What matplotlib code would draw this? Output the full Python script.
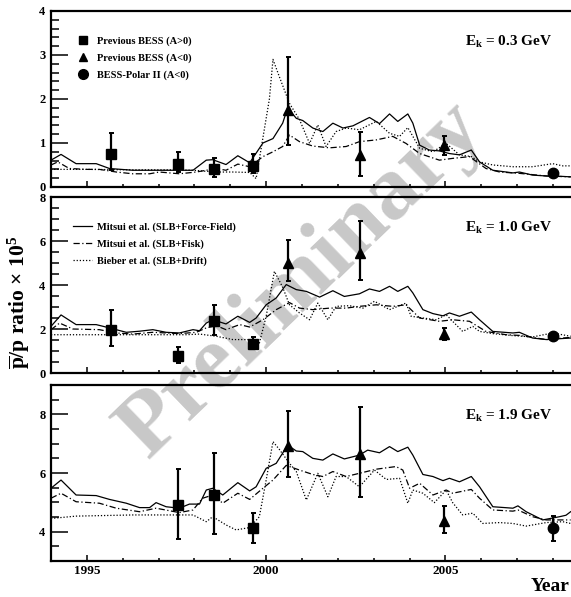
import matplotlib
matplotlib.use("Agg")
import matplotlib.pyplot as plt
from matplotlib.lines import Line2D
from matplotlib.ticker import MultipleLocator

plt.rcParams["font.family"] = ["Liberation Serif", "DejaVu Serif"]
plt.rcParams["font.weight"] = "bold"
plt.rcParams["mathtext.fontset"] = "custom"
plt.rcParams["mathtext.rm"] = "Liberation Serif:bold"
plt.rcParams["mathtext.bf"] = "Liberation Serif:bold"
plt.rcParams["mathtext.it"] = "Liberation Serif:italic:bold"

# ---- data points (shared x positions) ----
sq_x = [1995.66, 1997.54, 1998.54, 1999.63]
tri_x = [2000.62, 2002.62, 2004.95]
circ_x = [2007.99]

# E_k = 0.3 GeV
sq03_y = [0.74, 0.52, 0.42, 0.48]
sq03_lo = [0.36, 0.18, 0.19, 0.17]
sq03_hi = [0.48, 0.27, 0.24, 0.26]
tri03_y = [1.76, 0.73, 0.95]
tri03_lo = [0.81, 0.49, 0.22]
tri03_hi = [1.20, 0.51, 0.20]
circ03_y = [0.31]
circ03_err = [0.04]

ff03_x = [1994.0, 1994.28, 1994.7, 1995.26, 1995.63, 1996.28, 1997.21, 1997.96, 1998.33, 1998.51,
          1998.88, 1999.21, 1999.54, 1999.91, 2000.19, 2000.46, 2000.60, 2000.84, 2001.02, 2001.30,
          2001.58, 2001.86, 2002.14, 2002.42, 2002.88, 2003.16, 2003.44, 2003.67, 2003.95, 2004.09,
          2004.28, 2004.55, 2004.83, 2005.11, 2005.39, 2005.72, 2005.95, 2006.32, 2006.88, 2007.06,
          2007.43, 2007.81, 2008.27, 2008.49]
ff03_y = [0.61, 0.74, 0.53, 0.53, 0.42, 0.38, 0.38, 0.38, 0.61, 0.62,
          0.51, 0.71, 0.55, 1.0, 1.1, 1.45, 1.8, 1.56, 1.51, 1.34,
          1.26, 1.45, 1.34, 1.39, 1.58, 1.44, 1.66, 1.49, 1.66, 1.45,
          0.95, 0.84, 0.82, 0.76, 0.73, 0.84, 0.57, 0.38, 0.32, 0.34,
          0.27, 0.25, 0.24, 0.23]
fisk03_x = [1994.0, 1994.19, 1994.51, 1995.0, 1995.35, 1995.82, 1996.28, 1996.75, 1997.02, 1997.58,
            1998.05, 1998.61, 1998.88, 1999.21, 1999.54, 1999.91, 2000.19, 2000.46, 2000.65, 2000.93,
            2001.30, 2001.77, 2002.23, 2002.60, 2003.07, 2003.53, 2003.90, 2004.28, 2004.83, 2005.20,
            2005.67, 2006.13, 2006.51, 2007.06, 2007.81, 2008.49]
fisk03_y = [0.5, 0.57, 0.42, 0.40, 0.40, 0.34, 0.30, 0.30, 0.34, 0.30,
            0.34, 0.42, 0.38, 0.52, 0.46, 0.69, 0.80, 0.92, 1.18, 1.03,
            0.93, 0.89, 0.92, 1.03, 1.07, 1.15, 0.99, 0.76, 0.61, 0.65,
            0.69, 0.42, 0.34, 0.31, 0.25, 0.23]
drift03_x = [1994.0, 1995.0, 1996.28, 1997.21, 1997.96, 1998.61, 1999.07, 1999.54, 1999.72, 2000.09,
             2000.19, 2000.37, 2000.65, 2000.93, 2001.21, 2001.44, 2001.67, 2001.95, 2002.23, 2002.60,
             2003.07, 2003.44, 2003.72, 2003.95, 2004.28, 2004.65, 2005.02, 2005.39, 2005.72, 2005.95,
             2006.32, 2006.88, 2007.43, 2007.99, 2008.27, 2008.49]
drift03_y = [0.40, 0.40, 0.39, 0.39, 0.38, 0.34, 0.34, 0.33, 0.19, 2.0,
             2.9, 2.5, 1.9, 1.53, 0.99, 1.41, 0.92, 1.26, 1.34, 1.3,
             1.49, 1.22, 1.15, 1.35, 0.88, 0.8, 0.99, 0.73, 0.69, 0.57,
             0.5, 0.46, 0.46, 0.53, 0.48, 0.48]

# E_k = 1.0 GeV
sq10_y = [1.97, 0.76, 2.35, 1.33]
sq10_lo = [0.73, 0.31, 0.61, 0.24]
sq10_hi = [0.91, 0.41, 0.73, 0.29]
tri10_y = [5.0, 5.45, 1.79]
tri10_lo = [0.83, 1.24, 0.27]
tri10_hi = [1.03, 1.44, 0.26]
circ10_y = [1.67]
circ10_err = [0.08]

ff10_x = [1994.0, 1994.28, 1994.70, 1995.26, 1995.63, 1996.10, 1996.47, 1996.84, 1997.21, 1997.58,
          1997.96, 1998.14, 1998.33, 1998.51, 1998.88, 1999.21, 1999.54, 1999.72, 2000.0, 2000.28,
          2000.56, 2000.84, 2001.12, 2001.49, 2001.86, 2002.18, 2002.60, 2002.88, 2003.16, 2003.44,
          2003.67, 2003.95, 2004.09, 2004.37, 2004.65, 2004.93, 2005.11, 2005.39, 2005.72, 2005.95,
          2006.32, 2006.88, 2007.06, 2007.43, 2007.81, 2008.49]
ff10_y = [2.12, 2.64, 2.2, 2.2, 2.05, 1.85, 1.9, 1.97, 1.85, 1.82,
          1.97, 1.92, 2.27, 2.42, 2.23, 2.58, 2.3, 2.5, 3.1, 3.41,
          4.02, 3.79, 3.71, 3.45, 3.74, 3.48, 3.6, 3.82, 3.71, 3.94,
          3.71, 3.94, 3.64, 2.88, 2.7, 2.6, 2.73, 2.58, 2.77, 2.42,
          1.89, 1.82, 1.85, 1.59, 1.52, 1.59]
fisk10_x = [1994.0, 1994.24, 1994.61, 1995.35, 1995.82, 1996.28, 1996.84, 1997.58, 1998.05, 1998.33,
            1998.61, 1998.88, 1999.26, 1999.54, 1999.91, 2000.28, 2000.65, 2000.93, 2001.30, 2001.77,
            2002.23, 2002.60, 2003.07, 2003.53, 2003.90, 2004.28, 2004.83, 2005.20, 2005.67, 2006.13,
            2006.69, 2007.06, 2007.81, 2008.49]
fisk10_y = [1.97, 2.27, 2.0, 1.97, 1.82, 1.77, 1.85, 1.79, 1.85, 2.05,
            2.15, 1.97, 2.2, 2.09, 2.42, 2.88, 3.2, 2.95, 2.88, 2.95,
            2.95, 3.03, 3.1, 3.03, 3.1, 2.5, 2.35, 2.42, 2.35, 1.89,
            1.74, 1.71, 1.52, 1.62]
drift10_x = [1994.0, 1997.77, 1998.14, 1998.61, 1999.07, 1999.54, 1999.81, 2000.0, 2000.23, 2000.46,
             2000.65, 2000.93, 2001.21, 2001.44, 2001.72, 2001.95, 2002.32, 2002.70, 2003.02, 2003.44,
             2003.90, 2004.04, 2004.37, 2004.74, 2005.02, 2005.20, 2005.48, 2005.76, 2005.95, 2006.32,
             2006.88, 2007.43, 2007.99, 2008.49]
drift10_y = [1.74, 1.74, 1.77, 1.67, 1.52, 1.52, 1.36, 2.58, 4.62, 3.9,
             3.1, 2.73, 2.42, 3.18, 2.42, 3.03, 3.06, 2.95, 3.26, 2.88,
             3.18, 2.58, 2.5, 2.42, 2.65, 2.35, 1.89, 2.12, 1.89, 1.79,
             1.7, 1.64, 1.82, 1.67]

# E_k = 1.9 GeV
sq19_x = [1997.54, 1998.54, 1999.63]
sq19_y = [4.91, 5.25, 4.11]
sq19_lo = [1.16, 1.33, 0.51]
sq19_hi = [1.21, 1.44, 0.54]
tri19_y = [6.93, 6.65, 4.38]
tri19_lo = [1.08, 1.48, 0.41]
tri19_hi = [1.18, 1.59, 0.50]
circ19_y = [4.11]
circ19_err = [0.44]

ff19_x = [1994.0, 1994.28, 1994.70, 1995.26, 1995.63, 1996.10, 1996.47, 1996.75, 1996.93, 1997.21,
          1997.58, 1997.86, 1998.14, 1998.33, 1998.51, 1998.79, 1999.21, 1999.54, 1999.72, 2000.0,
          2000.28, 2000.60, 2000.84, 2001.02, 2001.30, 2001.58, 2001.86, 2002.18, 2002.60, 2002.83,
          2003.16, 2003.44, 2003.67, 2003.95, 2004.09, 2004.37, 2004.65, 2004.93, 2005.11, 2005.39,
          2005.72, 2005.95, 2006.32, 2006.88, 2007.02, 2007.25, 2007.71, 2008.18, 2008.36, 2008.49]
ff19_y = [5.48, 5.76, 5.25, 5.23, 5.1, 4.97, 4.82, 4.82, 4.99, 4.85,
          4.8, 4.94, 4.94, 5.42, 5.48, 5.25, 5.67, 5.39, 5.53, 6.16,
          6.33, 6.95, 6.75, 6.73, 6.5, 6.44, 6.65, 6.48, 6.61, 6.78,
          6.69, 6.9, 6.73, 6.88, 6.61, 5.95, 5.88, 5.74, 5.82, 5.7,
          5.88, 5.53, 4.85, 4.8, 4.88, 4.68, 4.4, 4.51, 4.56, 4.68]
fisk19_x = [1994.0, 1994.28, 1994.70, 1995.35, 1995.82, 1996.47, 1996.93, 1997.58, 1997.96, 1998.23,
            1998.51, 1998.79, 1999.21, 1999.54, 1999.91, 2000.19, 2000.56, 2000.93, 2001.30, 2001.58,
            2001.86, 2002.23, 2002.60, 2003.07, 2003.62, 2003.81, 2004.0, 2004.28, 2004.65, 2005.02,
            2005.20, 2005.72, 2005.95, 2006.32, 2006.88, 2007.02, 2007.43, 2007.81, 2008.27, 2008.49]
fisk19_y = [5.14, 5.31, 5.02, 4.97, 4.8, 4.68, 4.8, 4.65, 4.74, 5.14,
            5.25, 4.97, 5.31, 5.1, 5.48, 5.76, 6.26, 6.1, 5.95, 5.88,
            6.05, 5.88, 5.99, 6.13, 6.22, 6.1, 5.48, 5.65, 5.25, 5.42,
            5.31, 5.44, 5.14, 4.74, 4.7, 4.74, 4.51, 4.4, 4.4, 4.4]
drift19_x = [1994.0, 1994.70, 1996.28, 1997.96, 1998.33, 1998.51, 1998.88, 1999.16, 1999.54, 1999.81,
             2000.0, 2000.19, 2000.37, 2000.65, 2000.84, 2001.12, 2001.44, 2001.72, 2001.95, 2002.23,
             2002.60, 2003.02, 2003.35, 2003.72, 2003.95, 2004.09, 2004.37, 2004.69, 2005.02, 2005.20,
             2005.48, 2005.76, 2006.04, 2006.51, 2006.88, 2007.25, 2007.81, 2008.27, 2008.49]
drift19_y = [4.45, 4.53, 4.57, 4.57, 4.34, 4.51, 4.23, 4.06, 4.14, 4.51,
             5.76, 7.07, 6.8, 6.33, 6.05, 5.08, 5.99, 5.19, 5.88, 5.88,
             5.53, 6.1, 5.78, 5.82, 4.97, 5.42, 5.31, 4.99, 5.42, 4.99,
             4.57, 4.63, 4.28, 4.31, 4.28, 4.19, 4.31, 4.34, 4.28]

panel_labels = ["0.3", "1.0", "1.9"]
model_labels = ["Mitsui et al. (SLB+Force-Field)", "Mitsui et al. (SLB+Fisk)", "Bieber et al. (SLB+Drift)"]
data_labels = ["Previous BESS (A>0)", "Previous BESS (A<0)", "BESS-Polar II (A<0)"]

DASHDOT = (0, (5, 2, 1, 2))
DOTTED = (0, (1, 1.5))

fig = plt.figure(figsize=(5.71, 5.97), dpi=100)
fig.text(0.53, 0.53, "Preliminary", rotation=44, fontsize=66, color="#c8c8c8",
         fontweight="bold", ha="center", va="center", zorder=-1)

bottoms = [0.6868, 0.3752, 0.0603]
ylims = [(0, 4), (0, 8), (3, 9)]
majors = [1, 2, 2]
minors = [0.2, 0.5, 0.5]

panels = [
    (ff03_x, ff03_y, fisk03_x, fisk03_y, drift03_x, drift03_y,
     sq_x, sq03_y, sq03_lo, sq03_hi, tri03_y, tri03_lo, tri03_hi, circ03_y, circ03_err),
    (ff10_x, ff10_y, fisk10_x, fisk10_y, drift10_x, drift10_y,
     sq_x, sq10_y, sq10_lo, sq10_hi, tri10_y, tri10_lo, tri10_hi, circ10_y, circ10_err),
    (ff19_x, ff19_y, fisk19_x, fisk19_y, drift19_x, drift19_y,
     sq19_x, sq19_y, sq19_lo, sq19_hi, tri19_y, tri19_lo, tri19_hi, circ19_y, circ19_err),
]

axes = []
for i, p in enumerate(panels):
    (fx, fy, kx, ky, dx, dy, sx, sy, slo, shi, ty, tlo, thi, cy, cerr) = p
    ax = fig.add_axes([0.0893, bottoms[i], 0.9107, 0.2948])
    ax.set_facecolor("none")
    ax.plot(fx, fy, color="black", lw=0.9, ls="-")
    ax.plot(kx, ky, color="black", lw=0.9, ls=DASHDOT)
    ax.plot(dx, dy, color="black", lw=0.9, ls=DOTTED)
    ekw = dict(color="black", ecolor="black", elinewidth=1.6, capsize=1.8, capthick=1.4, ls="none")
    ax.errorbar(sx, sy, yerr=[slo, shi], marker="s", ms=6.5, **ekw)
    ax.errorbar(tri_x, ty, yerr=[tlo, thi], marker="^", ms=6.5, **ekw)
    ax.errorbar(circ_x, cy, yerr=[cerr, cerr], marker="o", ms=7.5, **ekw)

    ax.set_xlim(1994.0, 2008.5)
    ax.set_ylim(*ylims[i])
    ax.xaxis.set_major_locator(MultipleLocator(5))
    ax.xaxis.set_minor_locator(MultipleLocator(1))
    ax.yaxis.set_major_locator(MultipleLocator(majors[i]))
    ax.yaxis.set_minor_locator(MultipleLocator(minors[i]))
    ax.tick_params(axis="y", which="major", direction="in", length=12, width=1.1, labelsize=9, pad=4)
    ax.tick_params(axis="y", which="minor", direction="in", length=6, width=1.1)
    ax.tick_params(axis="x", which="major", direction="in", length=4, width=1.1, labelsize=9.5, pad=3)
    ax.tick_params(axis="x", which="minor", direction="in", length=2.2, width=1.1)
    ax.tick_params(right=False, top=False)
    for lab in ax.get_yticklabels() + ax.get_xticklabels():
        lab.set_fontweight("bold")
    for side in ["left", "bottom", "top"]:
        ax.spines[side].set_linewidth(1.6)
    ax.spines["right"].set_visible(False)
    if i < 2:
        ax.tick_params(axis="x", labelbottom=False)
    ax.text(0.963, 0.824, r"E$_{\rm k}$ = " + panel_labels[i] + " GeV", transform=ax.transAxes,
            ha="right", va="center", fontsize=11, fontweight="bold")
    axes.append(ax)

# data legend (top panel)
h_data = [Line2D([], [], color="black", marker="s", ms=6, ls="none"),
          Line2D([], [], color="black", marker="^", ms=6, ls="none"),
          Line2D([], [], color="black", marker="o", ms=7, ls="none")]
axes[0].legend(h_data, data_labels, loc="upper left", bbox_to_anchor=(0.0515, 0.855),
               frameon=False, handlelength=1.0, handletextpad=0.85,
               labelspacing=0.72, borderpad=0, borderaxespad=0, prop={"weight": "bold", "size": 7.5})

# model legend (middle panel)
h_mod = [Line2D([], [], color="black", lw=0.9, ls="-"),
         Line2D([], [], color="black", lw=0.9, ls=DASHDOT),
         Line2D([], [], color="black", lw=0.9, ls=DOTTED)]
axes[1].legend(h_mod, model_labels, loc="upper left", bbox_to_anchor=(0.042, 0.855),
               frameon=False, handlelength=1.83, handletextpad=0.48,
               labelspacing=0.72, borderpad=0, borderaxespad=0, prop={"weight": "bold", "size": 7.5})

fig.text(0.033, 0.494, r"$\overline{\rm p}$/p ratio $\times$ 10$^{5}$", rotation=90,
         ha="center", va="center", fontsize=15.5, fontweight="bold")
fig.text(0.997, 0.018, "Year", ha="right", va="center", fontsize=14, fontweight="bold")

fig.savefig("out.png", dpi=100)
